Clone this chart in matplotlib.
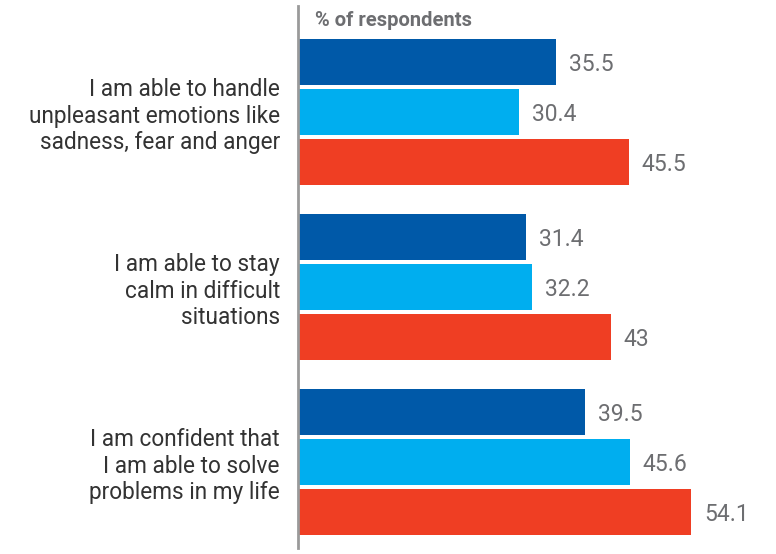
import matplotlib
matplotlib.use("Agg")
import matplotlib.pyplot as plt
import numpy as np

categories = [
    "I am able to handle\nunpleasant emotions like\nsadness, fear and anger",
    "I am able to stay\ncalm in difficult\nsituations",
    "I am confident that\nI am able to solve\nproblems in my life",
]
series_a = [35.5, 31.4, 39.5]
series_b = [30.4, 32.2, 45.6]
series_c = [45.5, 43, 54.1]
axis_title = "% of respondents"

colors = ["#0059A8", "#00AEEF", "#EF3E23"]
W, H = 776, 554
PX_PER_UNIT = 7.27
fig = plt.figure(figsize=(W / 100, H / 100), dpi=100)
ax = fig.add_axes([298 / W, 6 / H, (W - 298) / W, (548 - 6) / H])

group_step = 3.5
centers = np.arange(len(categories)) * group_step
bar_h = 0.92
for k, (vals, col) in enumerate(zip([series_a, series_b, series_c], colors)):
    ys = centers + (k - 1)
    ax.barh(ys, vals, height=bar_h, color=col, edgecolor="none")
    for y, v in zip(ys, vals):
        ax.text(v + 13 / PX_PER_UNIT, y + 0.05, f"{v:g}", va="center", ha="left",
                fontsize=16.5, color="#6d6e71", family="Roboto")

ax.set_xlim(0, (W - 298) / PX_PER_UNIT)
ax.set_ylim(centers[-1] + 1.72, -2.12)
ax.set_xticks([])
ax.set_yticks(centers)
ax.set_yticklabels(categories, fontsize=16.3, color="#333333", family="Roboto",
                   linespacing=1.18)
ax.tick_params(axis="y", length=0, pad=13)
for s in ["top", "right", "bottom"]:
    ax.spines[s].set_visible(False)
ax.spines["left"].set_color("#9a9a9a")
ax.spines["left"].set_linewidth(2)

ax.text(17 / PX_PER_UNIT, -1.83, axis_title, ha="left", va="center",
        fontsize=14.5, color="#6d6e71", family="Roboto", fontweight="bold")

fig.savefig("out.png", dpi=100, facecolor="white")
